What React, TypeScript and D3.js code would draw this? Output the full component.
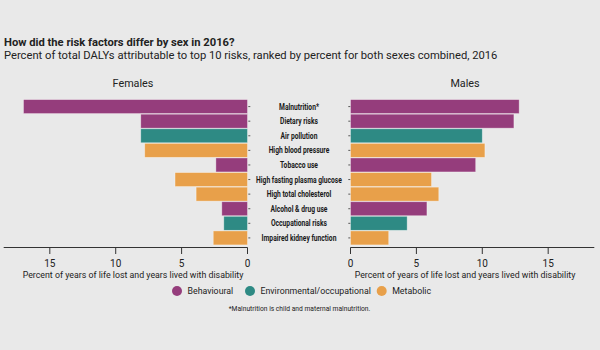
import React from "react";
import * as d3 from "d3";

const risks = [
  "Malnutrition*",
  "Dietary risks",
  "Air pollution",
  "High blood pressure",
  "Tobacco use",
  "High fasting plasma glucose",
  "High total cholesterol",
  "Alcohol & drug use",
  "Occupational risks",
  "Impaired kidney function",
];
const riskGroup = [
  "Behavioural",
  "Behavioural",
  "Environmental/occupational",
  "Metabolic",
  "Behavioural",
  "Metabolic",
  "Metabolic",
  "Behavioural",
  "Environmental/occupational",
  "Metabolic",
];
const females = [17.0, 8.1, 8.1, 7.8, 2.4, 5.5, 3.9, 1.95, 1.8, 2.6];
const males = [12.8, 12.4, 10.0, 10.2, 9.5, 6.15, 6.7, 5.8, 4.3, 2.9];
const groups = ["Behavioural", "Environmental/occupational", "Metabolic"];
const groupColors = ["#953d7c", "#2e8a84", "#e8a04a"];
const xTicks = [0, 5, 10, 15];

const W = 600;
const H = 350;
const font = "Roboto, sans-serif";

export default function App() {
  const color = d3.scaleOrdinal<string, string>().domain(groups).range(groupColors);
  const xL = d3.scaleLinear().domain([0, 18.5]).range([247.5, 3.7]);
  const xR = d3.scaleLinear().domain([0, 18.5]).range([350.5, 594.3]);
  const y = d3.scaleBand().domain(risks).range([99, 245.5]).padding(0.04);
  const axisY = 247.5;

  // legend item positions
  const legendX = [177, 250, 381.7];

  return (
    <svg
      width={W}
      height={H}
      style={{ position: "absolute", left: 0, top: 0, background: "#e9e9e9" }}
    >
      <rect x={0} y={0} width={W} height={H} fill="#e9e9e9" />
      <text x={4} y={45.5} fontFamily={font} fontWeight="bold" fontSize={11.2} fill="#222">
        How did the risk factors differ by sex in 2016?
      </text>
      <text x={4} y={58.5} fontFamily={font} fontSize={11.2} fill="#222">
        Percent of total DALYs attributable to top 10 risks, ranked by percent for both sexes combined, 2016
      </text>
      <text x={133} y={86.5} textAnchor="middle" fontFamily={font} fontSize={10.8} fill="#222">
        Females
      </text>
      <text x={465} y={86.5} textAnchor="middle" fontFamily={font} fontSize={10.8} fill="#222">
        Males
      </text>

      {/* bars */}
      {risks.map((r, i) => {
        const cy = y(r)! + y.bandwidth() / 2;
        return (
          <g key={r}>
            <rect
              x={xL(females[i])}
              y={y(r)}
              width={xL(0) - xL(females[i])}
              height={y.bandwidth()}
              fill={color(riskGroup[i])}
              stroke="rgba(255,255,255,0.45)"
              strokeWidth={0.8}
            />
            <rect
              x={xR(0)}
              y={y(r)}
              width={xR(males[i]) - xR(0)}
              height={y.bandwidth()}
              fill={color(riskGroup[i])}
              stroke="rgba(255,255,255,0.45)"
              strokeWidth={0.8}
            />
            <line x1={248.3} x2={250.3} y1={cy} y2={cy} stroke="#333" strokeWidth={0.8} />
            <line x1={348.3} x2={350.3} y1={cy} y2={cy} stroke="#333" strokeWidth={0.8} />
            {/* condensed bold label */}
            <text
              transform={`translate(299,${cy + 3}) scale(0.78,1)`}
              textAnchor="middle"
              fontFamily={font}
              fontWeight="bold"
              fontSize={8.6}
              fill="#1a1a1a"
            >
              {r}
            </text>
          </g>
        );
      })}

      {/* x axes */}
      {[xL, xR].map((sc, k) => (
        <g key={k}>
          <line x1={sc.range()[0]} x2={sc.range()[1]} y1={axisY} y2={axisY} stroke="#333" strokeWidth={1} />
          {xTicks.map((t) => (
            <g key={t} transform={`translate(${sc(t)},${axisY})`}>
              <line y1={0} y2={6.5} stroke="#333" strokeWidth={1} />
              <text y={19.5} textAnchor="middle" fontFamily={font} fontSize={10} fill="#222">
                {t}
              </text>
            </g>
          ))}
          <text
            x={k === 0 ? 133 : 465}
            y={277.5}
            textAnchor="middle"
            fontFamily={font}
            fontSize={8.8}
            fill="#222"
          >
            Percent of years of life lost and years lived with disability
          </text>
        </g>
      ))}

      {/* legend */}
      {groups.map((g, i) => (
        <g key={g}>
          <circle cx={legendX[i]} cy={291} r={5} fill={color(g)} />
          <text x={legendX[i] + 10.5} y={294} fontFamily={font} fontSize={8.8} fill="#222">
            {g}
          </text>
        </g>
      ))}
      <text x={299.5} y={311} textAnchor="middle" fontFamily={font} fontSize={6.7} fill="#222">
        *Malnutrition is child and maternal malnutrition.
      </text>
    </svg>
  );
}
